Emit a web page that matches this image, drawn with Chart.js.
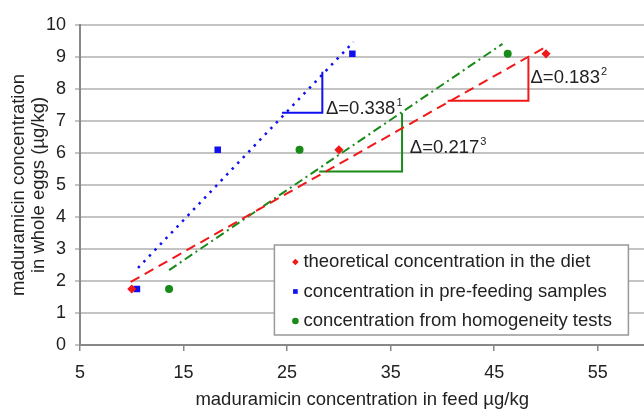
<!DOCTYPE html>
<html>
<head>
<meta charset="utf-8">
<script src="https://cdn.jsdelivr.net/npm/chart.js@4/dist/chart.umd.min.js"></script>
<style>
    html, body { margin: 0; padding: 0; background: #fff; overflow: hidden; }
    #clip { width: 644px; height: 410px; overflow: hidden; }
    #wrap { width: 649px; height: 410px; }
</style>
</head>
<body>
<div id="clip"><div id="wrap"><canvas id="eggChart"></canvas></div></div>
<script>
// Значения
const xTicks = [5, 15, 25, 35, 45, 55];

// Точки
const theoX = [10, 30, 50];
const theoY = [1.75, 6.1, 9.1];
const preX = [10.5, 18.3, 31.3];
const preY = [1.75, 6.1, 9.1];
const homX = [13.6, 26.2, 46.3];
const homY = [1.75, 6.1, 9.1];

// Линии тренда (концы)
const theoTrendX = [9.9, 50.0];
const theoTrendY = [1.97, 9.32];
const preTrendX = [10.6, 31.4];
const preTrendY = [2.41, 9.47];
const homTrendX = [13.6, 45.8];
const homTrendY = [2.34, 9.41];

// Треугольники наклона
const preStepX = [24.5, 28.4, 28.4];
const preStepY = [7.26, 7.26, 8.54];
const theoStepX = [40.5, 48.3, 48.3];
const theoStepY = [7.63, 7.63, 8.98];
const homStepX = [28.1, 36.1, 36.1];
const homStepY = [5.42, 5.42, 7.24];

// Подписи наклона
const deltaText = ['Δ=0.338', 'Δ=0.183', 'Δ=0.217'];
const deltaSup = ['1', '2', '3'];
const deltaX = [28.75, 48.5, 36.85];
const deltaY = [7.23, 8.19, 6.01];

const legendLabels = [
    'theoretical concentration in the diet',
    'concentration in pre-feeding samples',
    'concentration from homogeneity tests'
];

const RED = '#f01818';
const BLUE = '#1010f0';
const GREEN = '#188a18';
const FONT = "'Liberation Sans', Arial, sans-serif";

function zip(xs, ys) {
    return xs.map((x, i) => ({ x: x, y: ys[i] }));
}

function lineSet(xs, ys, color, dash, width) {
    return {
        type: 'line',
        data: zip(xs, ys),
        borderColor: color,
        borderWidth: width,
        borderDash: dash,
        pointRadius: 0,
        fill: false,
        tension: 0
    };
}

// Подписи Δ с верхним индексом
const deltaPlugin = {
    id: 'deltaLabels',
    afterDatasetsDraw(chart) {
        const ctx = chart.ctx;
        const xs = chart.scales.x, ys = chart.scales.y;
        ctx.save();
        ctx.fillStyle = '#222';
        ctx.textBaseline = 'alphabetic';
        ctx.textAlign = 'left';
        deltaText.forEach((t, i) => {
            const px = xs.getPixelForValue(deltaX[i]);
            const py = ys.getPixelForValue(deltaY[i]);
            ctx.font = '18.5px ' + FONT;
            ctx.fillText(t, px, py);
            const w = ctx.measureText(t).width;
            ctx.font = '11px ' + FONT;
            ctx.fillText(deltaSup[i], px + w + 1, py - 8);
        });
        ctx.restore();
    }
};

// Легенда внутри области графика
const legendPlugin = {
    id: 'boxLegend',
    afterDatasetsDraw(chart) {
        const ctx = chart.ctx;
        const area = chart.chartArea;
        const bx = area.right - 370, by = area.bottom - 100, bw = 354, bh = 90;
        ctx.save();
        ctx.fillStyle = '#fff';
        ctx.fillRect(bx, by, bw, bh);
        ctx.strokeStyle = '#999';
        ctx.lineWidth = 1.5;
        ctx.strokeRect(bx, by, bw, bh);
        const styles = ['rectRot', 'rect', 'circle'];
        const colors = [RED, BLUE, GREEN];
        ctx.font = '18.5px ' + FONT;
        ctx.textBaseline = 'middle';
        legendLabels.forEach((label, i) => {
            const cy = by + 17 + i * 29.5;
            ctx.fillStyle = colors[i];
            ctx.strokeStyle = colors[i];
            Chart.helpers.drawPoint(ctx, { pointStyle: styles[i], radius: 3.3, borderWidth: 0 }, bx + 21, cy);
            ctx.fillStyle = '#222';
            ctx.fillText(label, bx + 29, cy);
        });
        ctx.restore();
    }
};

new Chart(document.getElementById('eggChart'), {
    type: 'scatter',
    data: {
        datasets: [
            lineSet(theoTrendX, theoTrendY, RED, [10, 6], 2),
            lineSet(homTrendX, homTrendY, GREEN, [9, 4, 2, 4], 2),
            lineSet(preTrendX, preTrendY, BLUE, [2.5, 5.5], 2.5),
            lineSet(preStepX, preStepY, BLUE, [], 2),
            lineSet(theoStepX, theoStepY, RED, [], 2),
            lineSet(homStepX, homStepY, GREEN, [], 2),
            {
                label: legendLabels[0],
                data: zip(theoX, theoY),
                pointStyle: 'rectRot',
                pointRadius: 4.6,
                backgroundColor: RED,
                borderWidth: 0
            },
            {
                label: legendLabels[1],
                data: zip(preX, preY),
                pointStyle: 'rect',
                pointRadius: 4.6,
                backgroundColor: BLUE,
                borderWidth: 0
            },
            {
                label: legendLabels[2],
                data: zip(homX, homY),
                pointStyle: 'circle',
                pointRadius: 4,
                backgroundColor: GREEN,
                borderWidth: 0
            }
        ]
    },
    options: {
        responsive: true,
        maintainAspectRatio: false,
        animation: false,
        layout: { padding: { top: 25, right: 0, left: 0, bottom: 0 } },
        plugins: {
            legend: { display: false },
            tooltip: { enabled: false }
        },
        scales: {
            x: {
                type: 'linear',
                min: 5,
                max: 59.5,
                afterBuildTicks: function(axis) {
                    axis.ticks = xTicks.map(v => ({ value: v }));
                },
                afterFit: function(axis) { axis.height = 65; },
                ticks: {
                    color: '#222',
                    padding: 11,
                    font: { family: FONT, size: 18 }
                },
                grid: {
                    drawOnChartArea: false,
                    drawTicks: true,
                    tickLength: 6,
                    color: '#888',
                    lineWidth: 1.5
                },
                border: { color: '#888', width: 2 },
                title: {
                    display: true,
                    text: 'maduramicin concentration in feed µg/kg',
                    color: '#222',
                    font: { family: FONT, size: 18.5, lineHeight: 1.1 },
                    padding: { top: 0, bottom: 0 }
                }
            },
            y: {
                min: 0,
                max: 10,
                afterFit: function(axis) { axis.width = 80; },
                ticks: {
                    stepSize: 1,
                    color: '#222',
                    padding: 9,
                    font: { family: FONT, size: 18 }
                },
                grid: {
                    color: '#c4c4c4',
                    lineWidth: 2,
                    tickLength: 5
                },
                border: { color: '#888', width: 2 },
                title: {
                    display: true,
                    text: ['maduramicin concentration', 'in whole eggs (µg/kg)'],
                    color: '#222',
                    font: { family: FONT, size: 18.5, lineHeight: 1.1 },
                    padding: { top: 8.3, bottom: 0 }
                }
            }
        }
    },
    plugins: [deltaPlugin, legendPlugin]
});
</script>
</body>
</html>
